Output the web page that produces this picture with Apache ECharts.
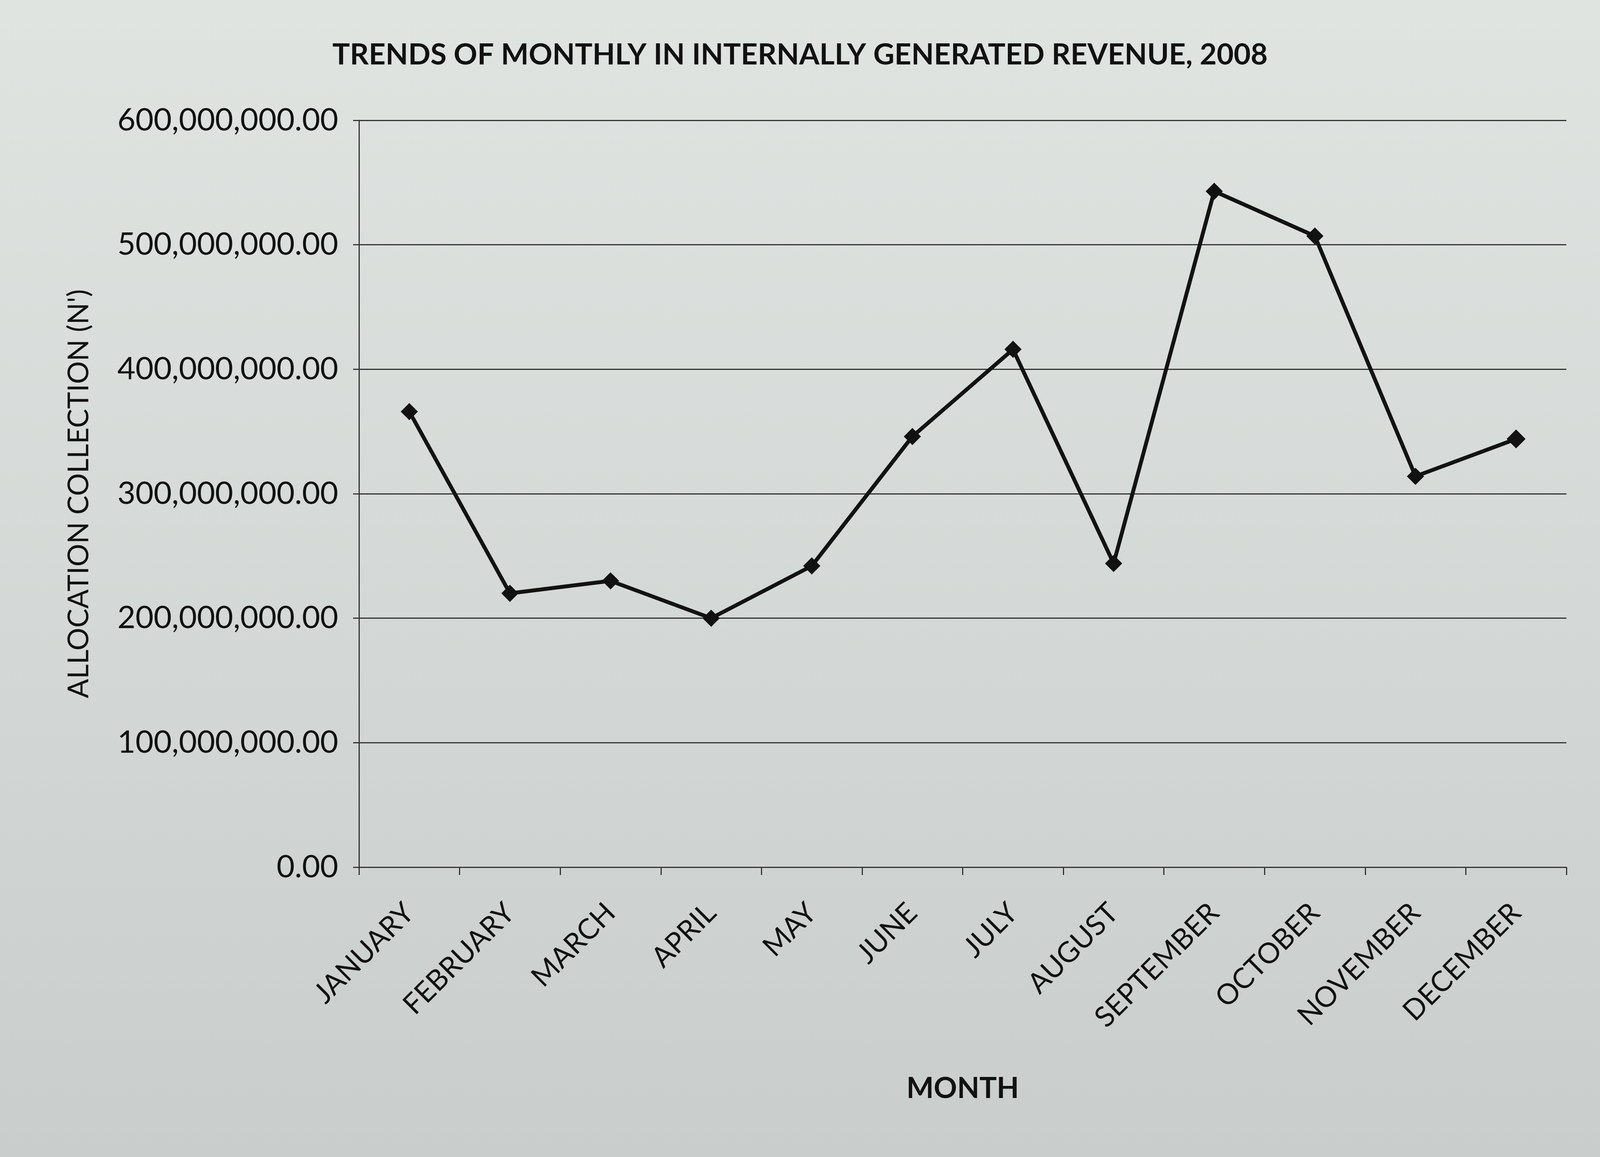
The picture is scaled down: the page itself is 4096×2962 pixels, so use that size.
<!DOCTYPE html>
<html>
<head>
<meta charset="utf-8">
<script src="https://cdn.jsdelivr.net/npm/echarts@6/dist/echarts.min.js"></script>
<style>
  html, body { margin: 0; padding: 0; }
  #chart { width: 4096px; height: 2962px; }
</style>
</head>
<body>
<div id="chart"></div>
<script>
const months = ["JANUARY", "FEBRUARY", "MARCH", "APRIL", "MAY", "JUNE",
  "JULY", "AUGUST", "SEPTEMBER", "OCTOBER", "NOVEMBER", "DECEMBER"];
// monthly collection (naira)
const revenue = [366000000, 220000000, 230000000, 200000000, 242000000, 346000000,
  416000000, 244000000, 543000000, 507000000, 314000000, 344000000];
const yTicks = [0, 100000000, 200000000, 300000000, 400000000, 500000000, 600000000];

const chart = echarts.init(document.getElementById("chart"));

const fmt = (v) =>
  Number(v).toLocaleString("en-US", { minimumFractionDigits: 2, maximumFractionDigits: 2 });

chart.setOption({
  backgroundColor: {
    type: "linear", x: 0, y: 0, x2: 0, y2: 1,
    colorStops: [
      { offset: 0, color: "#e0e4e1" },
      { offset: 1, color: "#c9cecc" }
    ]
  },
  textStyle: { fontFamily: "Lato" },
  title: {
    text: "TRENDS OF MONTHLY IN INTERNALLY GENERATED REVENUE, 2008",
    left: "center",
    top: 98,
    textStyle: { fontSize: 75, fontWeight: "bold", color: "#111" }
  },
  grid: { left: 919, right: 86, top: 308, bottom: 742 },
  xAxis: {
    type: "category",
    data: months,
    boundaryGap: true,
    name: "MONTH",
    nameLocation: "middle",
    nameGap: 530,
    nameTextStyle: { fontSize: 74, fontWeight: "bold", color: "#111" },
    axisLine: { lineStyle: { color: "#333", width: 3 } },
    axisTick: { show: true, length: 20, lineStyle: { color: "#333", width: 3 } },
    axisLabel: { rotate: 45, margin: 105, fontSize: 73, color: "#111" }
  },
  yAxis: {
    type: "value",
    min: yTicks[0],
    max: yTicks[yTicks.length - 1],
    interval: yTicks[1] - yTicks[0],
    name: "ALLOCATION COLLECTION (N')",
    nameLocation: "middle",
    nameGap: 680,
    nameTextStyle: { fontSize: 73, color: "#111" },
    axisLine: { show: true, lineStyle: { color: "#333", width: 3 } },
    axisTick: { show: true, length: 15, lineStyle: { color: "#333", width: 3 } },
    axisLabel: { margin: 53, fontSize: 80, color: "#111", formatter: fmt },
    splitLine: { lineStyle: { color: "#333", width: 3 } }
  },
  series: [
    {
      name: "Revenue",
      type: "line",
      data: revenue,
      symbol: "diamond",
      symbolSize: 44,
      lineStyle: { color: "#111", width: 10 },
      itemStyle: { color: "#111" }
    }
  ]
});
</script>
</body>
</html>
